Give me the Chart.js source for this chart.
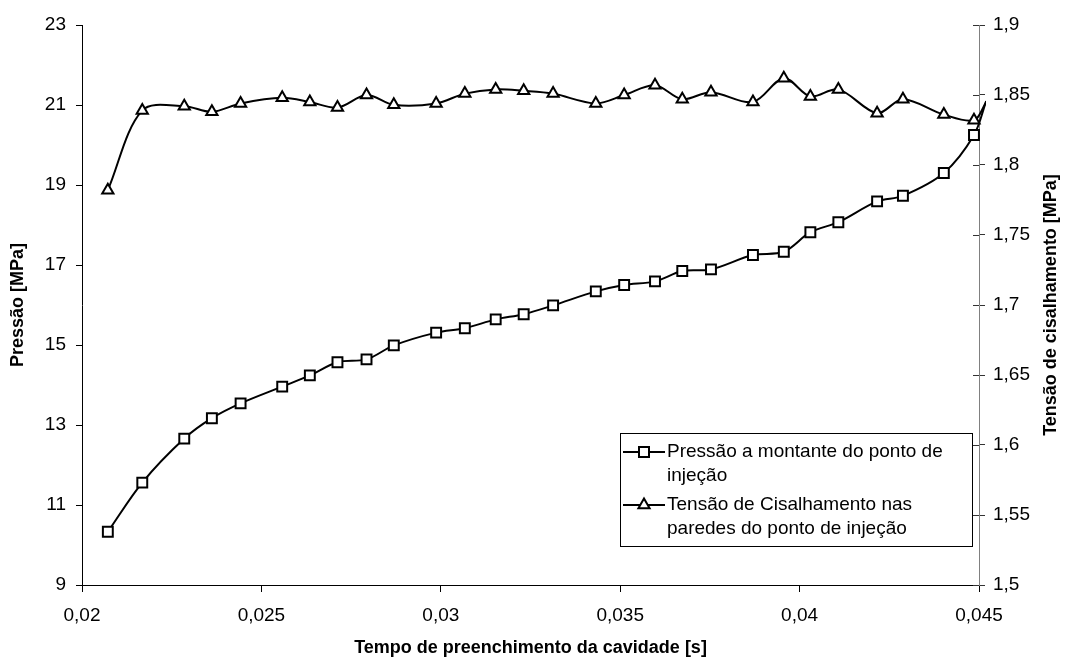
<!DOCTYPE html>
<html lang="pt">
<head>
<meta charset="utf-8">
<title>Pressão e tensão de cisalhamento</title>
<script src="https://cdn.jsdelivr.net/npm/chart.js"></script>
<style>
    html, body { margin: 0; padding: 0; background: #fff; }
</style>
</head>
<body>
<canvas id="chart" width="1070" height="666"></canvas>

<script>
    // tempo de preenchimento [s]
    var tempo = [0.02072, 0.02168, 0.02285, 0.02362, 0.02442, 0.02558, 0.02635, 0.02712, 0.02793, 0.02869,
                 0.02987, 0.03067, 0.03153, 0.03231, 0.03313, 0.03432, 0.03511, 0.03597, 0.03673, 0.03753,
                 0.03870, 0.03956, 0.04030, 0.04108, 0.04216, 0.04288, 0.04402, 0.04486, 0.04520];
    // pressao a montante [MPa] (eixo esquerdo)
    var pressao = [10.33, 11.56, 12.66, 13.17, 13.54, 13.96, 14.24, 14.57, 14.64, 14.99,
                   15.31, 15.42, 15.64, 15.77, 15.99, 16.34, 16.50, 16.59, 16.85, 16.89,
                   17.25, 17.33, 17.82, 18.07, 18.59, 18.73, 19.30, 20.25, 21.10];
    // tensao de cisalhamento [MPa] (eixo direito)
    var tensao = [1.782, 1.839, 1.842, 1.838, 1.844, 1.848, 1.845, 1.841, 1.850, 1.843,
                  1.844, 1.851, 1.854, 1.853, 1.851, 1.844, 1.850, 1.857, 1.847, 1.852,
                  1.845, 1.862, 1.849, 1.854, 1.837, 1.847, 1.836, 1.832, 1.845];

    var xTicks = [0.02, 0.025, 0.03, 0.035, 0.04, 0.045];
    var leftTicks = [9, 11, 13, 15, 17, 19, 21, 23];
    var rightTicks = [1.5, 1.55, 1.6, 1.65, 1.7, 1.75, 1.8, 1.85, 1.9];

    var seriesNames = ['Pressão a montante do ponto de injeção',
                       'Tensão de Cisalhamento nas paredes do ponto de injeção'];
    var xTitle = 'Tempo de preenchimento da cavidade [s]';
    var leftTitle = 'Pressão [MPa]';
    var rightTitle = 'Tensão de cisalhamento [MPa]';

    var FONT = '"Liberation Sans", Arial, sans-serif';

    function fmt(v) {
        return String(parseFloat(v.toFixed(4))).replace('.', ',');
    }

    // last point lies just past the right axis, only its line is visible
    function radii(r) {
        return tempo.map(function(t, i) { return i === tempo.length - 1 ? 0 : r; });
    }

    function drawMarker(ctx, style, x, y) {
        ctx.beginPath();
        if (style === 'rect') {
            ctx.rect(x - 5, y - 5, 10, 10);
        } else {
            ctx.moveTo(x, y - 6.5);
            ctx.lineTo(x + 5.6, y + 3.25);
            ctx.lineTo(x - 5.6, y + 3.25);
            ctx.closePath();
        }
        ctx.fillStyle = '#fff';
        ctx.fill();
        ctx.stroke();
    }

    function wrap(ctx, text, maxWidth) {
        var words = text.split(' ');
        var lines = [];
        var line = '';
        words.forEach(function(w) {
            var test = line ? line + ' ' + w : w;
            if (ctx.measureText(test).width > maxWidth && line) {
                lines.push(line);
                line = w;
            } else {
                line = test;
            }
        });
        lines.push(line);
        return lines;
    }

    var extras = {
        id: 'extras',
        afterDraw: function(chart) {
            var ctx = chart.ctx;
            var area = chart.chartArea;
            ctx.save();

            // right axis ticks also cross inwards
            var yR = chart.scales.yR;
            ctx.strokeStyle = '#333';
            ctx.lineWidth = 1;
            yR.ticks.forEach(function(t) {
                var py = Math.round(yR.getPixelForValue(t.value)) + 0.5;
                ctx.beginPath();
                ctx.moveTo(area.right - 6, py);
                ctx.lineTo(area.right, py);
                ctx.stroke();
            });

            // axis titles
            ctx.fillStyle = '#000';
            ctx.font = 'bold 18px ' + FONT;
            ctx.textAlign = 'center';
            ctx.textBaseline = 'middle';
            ctx.fillText(xTitle, (area.left + area.right) / 2, 648);

            var midY = (area.top + area.bottom) / 2;
            ctx.save();
            ctx.translate(18, midY);
            ctx.rotate(-Math.PI / 2);
            ctx.fillText(leftTitle, 0, 0);
            ctx.restore();

            ctx.save();
            ctx.translate(1051, midY);
            ctx.rotate(-Math.PI / 2);
            ctx.fillText(rightTitle, 0, 0);
            ctx.restore();

            // legend box inside the plot
            var box = { left: 620, top: 433, right: 972, bottom: 546 };
            ctx.fillStyle = '#fff';
            ctx.fillRect(box.left, box.top, box.right - box.left, box.bottom - box.top);
            ctx.strokeStyle = '#000';
            ctx.lineWidth = 1;
            ctx.strokeRect(box.left + 0.5, box.top + 0.5, box.right - box.left, box.bottom - box.top);

            ctx.font = '19px ' + FONT;
            ctx.textAlign = 'left';
            var styles = ['rect', 'triangle'];
            var rowY = [452, 505];
            seriesNames.forEach(function(name, i) {
                var y = rowY[i];
                ctx.strokeStyle = '#000';
                ctx.lineWidth = 2;
                ctx.beginPath();
                ctx.moveTo(box.left + 3, y);
                ctx.lineTo(box.left + 45, y);
                ctx.stroke();
                drawMarker(ctx, styles[i], box.left + 24, y);
                ctx.fillStyle = '#000';
                wrap(ctx, name, 300).forEach(function(l, k) {
                    ctx.fillText(l, box.left + 47, y + k * 24);
                });
            });
            ctx.restore();
        }
    };

    var tickFont = { family: FONT, size: 19 };

    new Chart(document.getElementById('chart').getContext('2d'), {
        type: 'line',
        data: {
            datasets: [{
                label: seriesNames[0],
                data: tempo.map(function(t, i) { return { x: t, y: pressao[i] }; }),
                yAxisID: 'y',
                borderColor: '#000',
                borderWidth: 2,
                tension: 0.33,
                pointStyle: 'rect',
                pointRadius: radii(7),
                pointBackgroundColor: '#fff',
                pointBorderColor: '#000',
                pointBorderWidth: 2,
                clip: { left: 2, top: 2, right: 7, bottom: 2 }
            }, {
                label: seriesNames[1],
                data: tempo.map(function(t, i) { return { x: t, y: tensao[i] }; }),
                yAxisID: 'yR',
                borderColor: '#000',
                borderWidth: 2,
                tension: 0.33,
                pointStyle: 'triangle',
                pointRadius: radii(6.5),
                pointBackgroundColor: '#fff',
                pointBorderColor: '#000',
                pointBorderWidth: 2,
                clip: { left: 2, top: 2, right: 7, bottom: 2 }
            }]
        },
        options: {
            responsive: false,
            animation: false,
            layout: { padding: { top: 25 } },
            plugins: {
                legend: { display: false },
                tooltip: { enabled: false }
            },
            scales: {
                x: {
                    type: 'linear',
                    position: 'bottom',
                    min: 0.02,
                    max: 0.045,
                    afterBuildTicks: function(s) { s.ticks = xTicks.map(function(v) { return { value: v }; }); },
                    afterFit: function(s) { s.height = 81; },
                    ticks: { font: tickFont, color: '#000', padding: 12, maxRotation: 0, autoSkip: false, callback: fmt },
                    grid: { drawOnChartArea: false, tickLength: 7, tickColor: '#000' },
                    border: { color: '#000', width: 1 }
                },
                y: {
                    type: 'linear',
                    position: 'left',
                    min: 9,
                    max: 23,
                    afterBuildTicks: function(s) { s.ticks = leftTicks.map(function(v) { return { value: v }; }); },
                    afterFit: function(s) { s.width = 82; },
                    ticks: { font: tickFont, color: '#000', padding: 10, callback: fmt },
                    grid: { drawOnChartArea: false, tickLength: 6, tickColor: '#000' },
                    border: { color: '#000', width: 1 }
                },
                yR: {
                    type: 'linear',
                    position: 'right',
                    min: 1.5,
                    max: 1.9,
                    afterBuildTicks: function(s) { s.ticks = rightTicks.map(function(v) { return { value: v }; }); },
                    afterFit: function(s) { s.width = 91; },
                    ticks: { font: tickFont, color: '#000', padding: 8, callback: fmt },
                    grid: { drawOnChartArea: false, tickLength: 6, tickColor: '#333' },
                    border: { color: '#808080', width: 1 }
                }
            }
        },
        plugins: [extras]
    });
</script>
</body>
</html>
